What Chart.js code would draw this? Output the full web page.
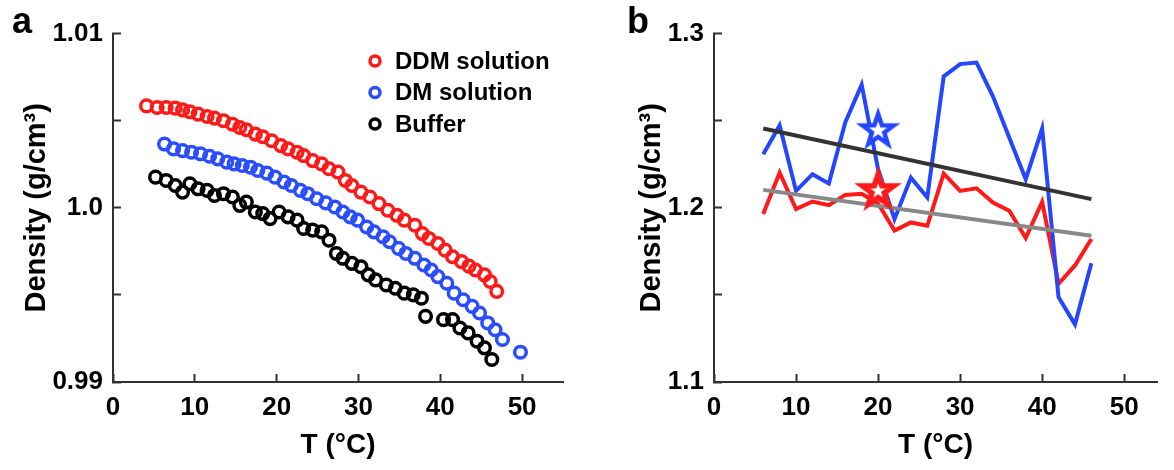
<!DOCTYPE html>
<html>
<head>
<meta charset="utf-8">
<script src="https://cdn.jsdelivr.net/npm/chart.js@4.4.0/dist/chart.umd.min.js"></script>
<style>
  body { margin: 0; background: #fff; }
  #wrap { position: relative; width: 1174px; height: 470px; font-family: "Liberation Sans", Arial, sans-serif; }
  .panel { position: absolute; top: 0; width: 587px; height: 470px; }
  .tag { position: absolute; top: 3px; font-weight: bold; font-size: 36px; line-height: 36px; color: #000; }
</style>
</head>
<body>
<div id="wrap">
  <div class="panel" style="left:0"><canvas id="chartA"></canvas></div>
  <div class="panel" style="left:587px"><canvas id="chartB"></canvas></div>
  <div class="tag" style="left:12px">a</div>
  <div class="tag" style="left:627px">b</div>
</div>
<script>
// panel a: density vs temperature
var ddmT = [4.1, 5.4, 6.5, 7.6, 8.5, 9.4, 10.4, 11.5, 12.4, 13.5, 14.6, 15.5, 16.3, 17.4, 18.3, 19.4, 20.5, 21.4, 22.5, 23.3, 24.4, 25.5, 26.4, 27.5, 28.4, 29.2, 30.3, 31.4, 32.5, 33.6, 34.7, 35.6, 36.9, 37.8, 38.6, 39.7, 40.6, 41.5, 42.6, 43.5, 44.3, 45.4, 46.1, 46.9];
var ddmRho = [1.00585, 1.00576, 1.00576, 1.00572, 1.00562, 1.00551, 1.00538, 1.00524, 1.00515, 1.00500, 1.00480, 1.00461, 1.00448, 1.00423, 1.00408, 1.00385, 1.00357, 1.00338, 1.00319, 1.00300, 1.00271, 1.00252, 1.00224, 1.00205, 1.00157, 1.00128, 1.00090, 1.00062, 1.00024, 0.99986, 0.99957, 0.99929, 0.99900, 0.99852, 0.99824, 0.99795, 0.99757, 0.99719, 0.99691, 0.99665, 0.99643, 0.99615, 0.99577, 0.99520];
var dmT = [6.3, 7.4, 8.5, 9.6, 10.7, 11.8, 12.8, 13.9, 14.8, 15.8, 16.8, 17.7, 18.8, 19.8, 20.9, 21.8, 22.9, 23.8, 24.9, 26.0, 27.1, 28.1, 29.0, 29.9, 31.0, 31.9, 33.0, 33.8, 34.9, 35.8, 36.9, 38.0, 38.9, 39.7, 40.8, 41.7, 42.8, 43.9, 44.8, 45.8, 46.7, 47.6, 49.8];
var dmRho = [1.00366, 1.00338, 1.00328, 1.00319, 1.00310, 1.00296, 1.00281, 1.00262, 1.00252, 1.00243, 1.00233, 1.00214, 1.00199, 1.00176, 1.00148, 1.00128, 1.00100, 1.00081, 1.00052, 1.00028, 1.00005, 0.99976, 0.99948, 0.99929, 0.99890, 0.99862, 0.99834, 0.99805, 0.99767, 0.99738, 0.99710, 0.99672, 0.99643, 0.99605, 0.99567, 0.99510, 0.99472, 0.99434, 0.99396, 0.99339, 0.99300, 0.99244, 0.99171];
var bufT = [5.2, 6.5, 7.6, 8.5, 9.4, 10.4, 11.5, 12.4, 13.5, 14.6, 15.5, 16.3, 17.4, 18.3, 19.2, 20.3, 21.4, 22.5, 23.3, 24.4, 25.5, 26.4, 27.3, 28.1, 29.2, 30.3, 31.2, 32.1, 33.4, 34.5, 35.6, 36.7, 37.7, 38.2, 40.4, 41.5, 42.4, 43.4, 44.5, 45.4, 46.3];
var bufRho = [1.00176, 1.00157, 1.00128, 1.00090, 1.00138, 1.00109, 1.00100, 1.00071, 1.00081, 1.00062, 1.00014, 1.00033, 0.99976, 0.99967, 0.99938, 0.99976, 0.99948, 0.99929, 0.99881, 0.99872, 0.99862, 0.99814, 0.99738, 0.99710, 0.99681, 0.99662, 0.99615, 0.99586, 0.99557, 0.99538, 0.99510, 0.99500, 0.99481, 0.99377, 0.99358, 0.99358, 0.99310, 0.99282, 0.99234, 0.99196, 0.99129];
var yTickValsA = [0.99, 1.0, 1.01];
var yTickTextA = ['0.99', '1.0', '1.01'];

// panel b: density vs temperature, two detergents + fits
var bT = [6, 8, 10, 12, 14, 16, 18, 20, 22, 24, 26, 28, 30, 32, 34, 36, 38, 40, 42, 44, 46];
var blueRho = [1.2307, 1.2473, 1.2097, 1.2193, 1.2139, 1.2490, 1.2707, 1.2222, 1.1935, 1.2173, 1.2059, 1.2754, 1.2825, 1.2834, 1.2640, 1.2402, 1.2164, 1.2455, 1.1487, 1.1331, 1.1682];
var redRho = [1.1964, 1.2202, 1.1993, 1.2036, 1.2015, 1.2074, 1.2080, 1.2025, 1.1869, 1.1916, 1.1897, 1.2196, 1.2097, 1.2112, 1.2030, 1.1983, 1.1827, 1.2034, 1.1564, 1.1669, 1.1821];
var fitT = [6, 46];
var blackFit = [1.2455, 1.2050];
var grayFit = [1.2103, 1.1840];
var starT = [20];
var blueStar = [1.2444];
var redStar = [1.2097];
var yTickValsB = [1.1, 1.2, 1.3];
var yTickTextB = ['1.1', '1.2', '1.3'];
var xTickText = ['0', '10', '20', '30', '40', '50'];

var FONT = '"Liberation Sans", Arial, sans-serif';
var AXIS = '#333333';

function pts(xs, ys) {
  return xs.map(function (x, i) { return { x: x, y: ys[i] }; });
}

function labelFor(vals, texts) {
  return function (v) {
    for (var i = 0; i < vals.length; i++) {
      if (Math.abs(v - vals[i]) < 1e-7) return texts[i];
    }
    return '';
  };
}

function starImage(color, lw) {
  var c = document.createElement('canvas');
  c.width = 48; c.height = 48;
  var g = c.getContext('2d');
  g.beginPath();
  for (var k = 0; k < 10; k++) {
    var r = k % 2 ? 6.5 : 16.5;
    var a = -Math.PI / 2 + k * Math.PI / 5;
    g.lineTo(24 + r * Math.cos(a), 24 + r * Math.sin(a));
  }
  g.closePath();
  g.fillStyle = '#fff';
  g.fill();
  g.lineWidth = lw;
  g.lineJoin = 'miter';
  g.strokeStyle = color;
  g.stroke();
  return c;
}

function scales(opt) {
  return {
    x: {
      type: 'linear', min: 0, max: opt.xMax,
      afterFit: function (s) { s.height = 88; },
      border: { color: AXIS, width: 2 },
      grid: { drawOnChartArea: false, tickLength: -8, tickColor: AXIS, tickWidth: 2 },
      ticks: {
        stepSize: 10, includeBounds: false, autoSkip: false, maxRotation: 0, padding: 18,
        color: '#000', font: { family: FONT, size: 26, weight: 'bold' },
        callback: function (v) { return xTickText[Math.round(v / 10)] || ''; }
      },
      title: {
        display: true, text: 'T (°C)', color: '#000',
        font: { family: FONT, size: 28, weight: 'bold' }, padding: { top: 0, bottom: 8 }
      }
    },
    y: {
      type: 'linear', min: opt.yMin, max: opt.yMax,
      afterFit: function (s) { s.width = opt.yWidth; },
      border: { color: AXIS, width: 2 },
      grid: { drawOnChartArea: false, tickLength: -8, tickColor: AXIS, tickWidth: 2 },
      ticks: {
        stepSize: opt.yStep, includeBounds: false, autoSkip: false, padding: 18,
        color: '#000', font: { family: FONT, size: 26, weight: 'bold' },
        callback: labelFor(opt.yVals, opt.yTexts)
      },
      title: {
        display: true, text: 'Density (g/cm³)', color: '#000',
        font: { family: FONT, size: 29, weight: 'bold' }, padding: { top: opt.titlePad, bottom: 0 }
      }
    }
  };
}

var cornerLegend = {
  id: 'cornerLegend',
  afterDraw: function (chart) {
    var ctx = chart.ctx;
    ctx.save();
    chart.data.datasets.forEach(function (ds, i) {
      var y = 61 + i * 31.5;
      ctx.beginPath();
      ctx.arc(375, y, 5, 0, Math.PI * 2);
      ctx.lineWidth = 3.5;
      ctx.strokeStyle = ds.borderColor;
      ctx.stroke();
      ctx.fillStyle = '#000';
      ctx.font = 'bold 24px ' + FONT;
      ctx.textBaseline = 'middle';
      ctx.fillText(ds.label, 395, y + 1);
    });
    ctx.restore();
  }
};

function ring(label, color, xs, ys) {
  return {
    label: label, data: pts(xs, ys),
    borderColor: color, backgroundColor: 'rgba(0,0,0,0)',
    pointStyle: 'circle', pointRadius: 5.8, pointBorderWidth: 3.5, showLine: false
  };
}

new Chart(document.getElementById('chartA'), {
  type: 'scatter',
  data: {
    datasets: [
      ring('DDM solution', '#ff1a1a', ddmT, ddmRho),
      ring('DM solution', '#2a4dff', dmT, dmRho),
      ring('Buffer', '#000000', bufT, bufRho)
    ]
  },
  options: {
    responsive: true, maintainAspectRatio: false, animation: false,
    layout: { padding: { left: 0, right: 24, top: 32, bottom: 0 } },
    plugins: { legend: { display: false }, tooltip: { enabled: false } },
    scales: scales({ xMax: 55, yMin: 0.99, yMax: 1.01, yStep: 0.005, yVals: yTickValsA, yTexts: yTickTextA, yWidth: 113, titlePad: 20 })
  },
  plugins: [cornerLegend]
});

function line(color, w, xs, ys) {
  return {
    data: pts(xs, ys), showLine: true, borderColor: color, borderWidth: w,
    pointRadius: 0, tension: 0, fill: false, borderJoinStyle: 'miter'
  };
}

new Chart(document.getElementById('chartB'), {
  type: 'scatter',
  data: {
    datasets: [
      { data: pts(starT, blueStar), pointStyle: starImage('#2446ff', 4.5), pointRadius: 16, showLine: false },
      { data: pts(starT, redStar), pointStyle: starImage('#ff1a1a', 5.5), pointRadius: 16, showLine: false },
      line('#333333', 4, fitT, blackFit),
      line('#888888', 4, fitT, grayFit),
      line('#2446ff', 4, bT, blueRho),
      line('#ff1a1a', 4, bT, redRho)
    ]
  },
  options: {
    responsive: true, maintainAspectRatio: false, animation: false,
    layout: { padding: { left: 0, right: 3, top: 32, bottom: 0 } },
    plugins: { legend: { display: false }, tooltip: { enabled: false } },
    scales: scales({ xMax: 54, yMin: 1.1, yMax: 1.3, yStep: 0.05, yVals: yTickValsB, yTexts: yTickTextB, yWidth: 127, titlePad: 48 })
  }
});
</script>
</body>
</html>
